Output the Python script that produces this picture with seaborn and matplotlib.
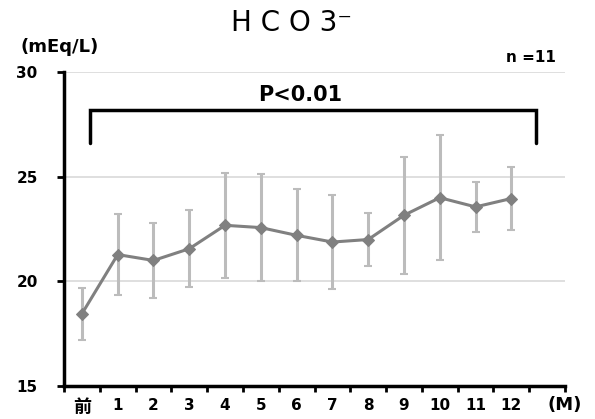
import matplotlib
matplotlib.use("Agg")
import matplotlib.pyplot as plt
import seaborn as sns
import numpy as np
import pandas as pd

months = ["前", "1", "2", "3", "4", "5", "6", "7", "8", "9", "10", "11", "12"]
means = [18.45, 21.28, 21.0, 21.56, 22.68, 22.57, 22.2, 21.88, 22.0, 23.16, 24.0, 23.56, 23.96]
sds = [1.25, 1.95, 1.8, 1.85, 2.5, 2.55, 2.2, 2.25, 1.25, 2.8, 3.0, 1.2, 1.5]
yticks = [15, 20, 25, 30]

sns.set_theme(style="white")
plt.rcParams["font.family"] = ["DejaVu Sans", "Noto Sans CJK JP"]
plt.rcParams["text.color"] = "black"
plt.rcParams["xtick.color"] = "black"
plt.rcParams["ytick.color"] = "black"

fig = plt.figure(figsize=(5.95, 4.19), dpi=100)
ax = fig.add_axes([0.1076, 0.0788, 0.842, 0.749])

pos = np.arange(len(months))
df = pd.DataFrame({"pos": pos, "mean": means, "sd": sds})

ax.errorbar(df["pos"], df["mean"], yerr=df["sd"], fmt="none", ecolor="#bcbcbc",
            elinewidth=2.2, capsize=3, capthick=1.5, zorder=2)
sns.lineplot(data=df, x="pos", y="mean", ax=ax, color="#808080", marker="D",
             markersize=6, markeredgecolor="#808080", linewidth=2.2, zorder=3)

ax.set_xlim(-0.5, 13.5)
ax.set_ylim(15, 30)
ax.set_yticks(yticks)
ax.set_yticklabels([str(v) for v in yticks], fontsize=11, fontweight="bold")
ax.set_xticks(pos)
ax.set_xticklabels(months, fontsize=11, fontweight="bold")
ax.get_xticklabels()[0].set_fontsize(13)
ax.set_xticks(np.arange(-0.5, 13.6, 1), minor=True)
ax.tick_params(axis="x", which="major", length=0, pad=9)
ax.tick_params(axis="x", which="minor", length=4, width=2, color="black", direction="out", bottom=True)
ax.tick_params(axis="y", length=5, width=2, color="black", direction="out", left=True, pad=14)
ax.set_xlabel("")
ax.set_ylabel("")

for v in [20, 25, 30]:
    ax.axhline(v, color="#d9d9d9", linewidth=1.2, zorder=1)

for s in ["top", "right"]:
    ax.spines[s].set_visible(False)
for s in ["left", "bottom"]:
    ax.spines[s].set_color("black")
    ax.spines[s].set_linewidth(2.5)

# bracket
ax.plot([0.22, 0.22, 12.7, 12.7], [26.6, 28.2, 28.2, 26.6], color="black",
        linewidth=2.5, solid_joinstyle="miter", clip_on=False, zorder=4)
ax.text(6.1, 28.45, "P<0.01", ha="center", va="bottom", fontsize=15, fontweight="bold")

fig.text(0.49, 0.945, "H C O 3\u207b", ha="center", va="center", fontsize=20,
         fontweight="normal", color="black")
fig.text(0.035, 0.888, "(mEq/L)", ha="left", va="center", fontsize=13, fontweight="bold")
fig.text(0.935, 0.862, "n =11", ha="right", va="center", fontsize=11, fontweight="bold")
fig.text(0.921, 0.034, "(M)", ha="left", va="center", fontsize=13, fontweight="bold")

fig.savefig("out.png", dpi=100)
